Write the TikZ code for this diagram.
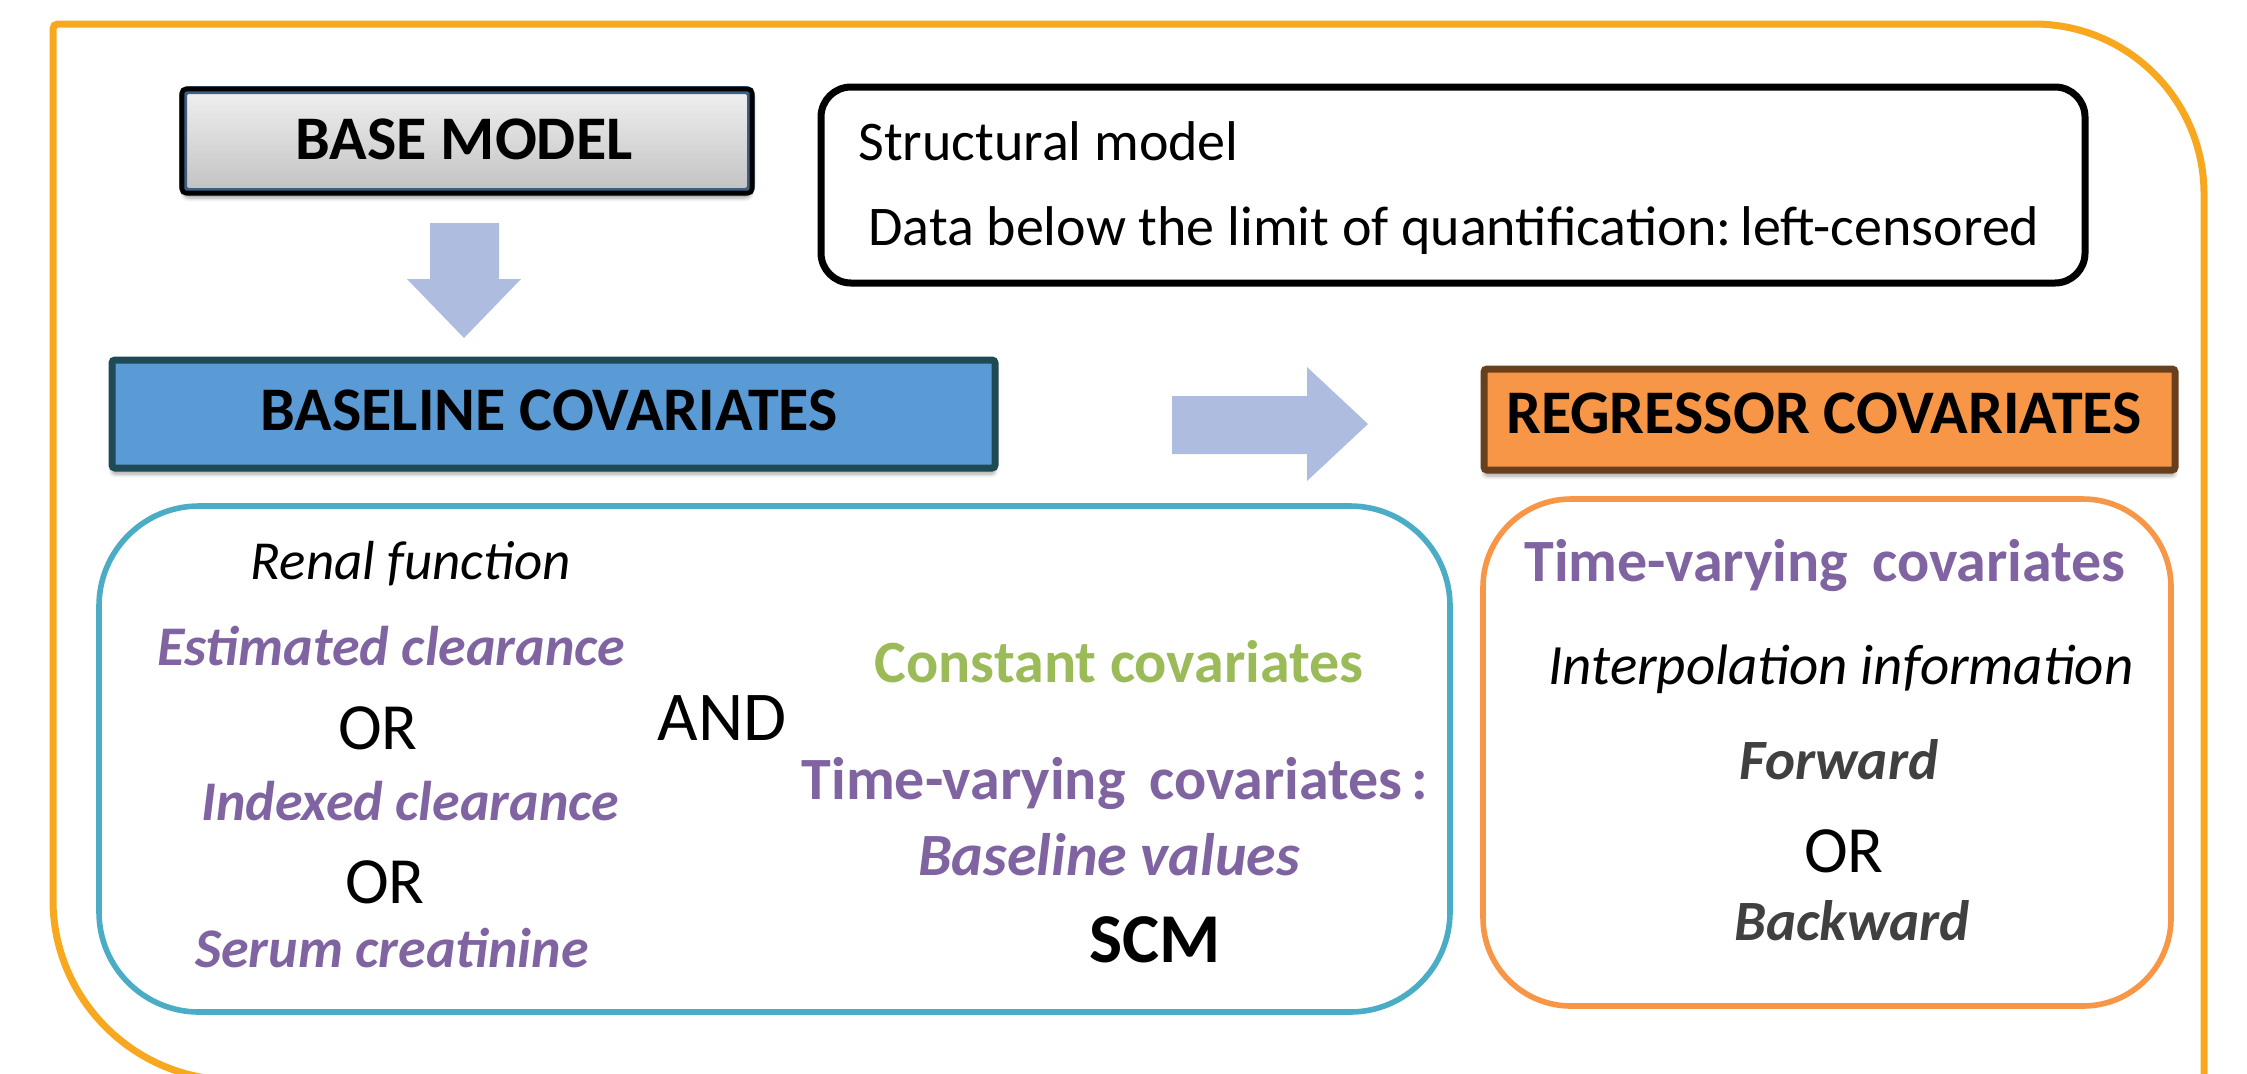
\documentclass[tikz,border=0pt]{standalone}
\usepackage{fontspec}
\setmainfont{Carlito}
\usetikzlibrary{shadows.blur}
\definecolor{frameorange}{RGB}{247,168,30}
\definecolor{arrowblue}{RGB}{174,188,223}
\definecolor{basefill}{RGB}{91,155,213}
\definecolor{baseedge}{RGB}{31,73,85}
\definecolor{regfill}{RGB}{247,150,70}
\definecolor{regedge}{RGB}{105,64,30}
\definecolor{tealedge}{RGB}{75,172,198}
\definecolor{orangeedge}{RGB}{247,150,70}
\definecolor{purp}{RGB}{128,100,162}
\definecolor{grn}{RGB}{155,187,89}
\definecolor{dgray}{RGB}{64,64,64}
\definecolor{bmedge}{RGB}{60,95,130}
\begin{document}
\begin{tikzpicture}[x=0.5pt,y=-0.5pt,
  frameline/.style={draw=frameorange, line width=3.5pt},
  blockarrow/.style={fill=arrowblue, draw=none},
  boxshadow/.style={blur shadow={shadow xshift=0pt, shadow yshift=-3pt, shadow blur steps=6, shadow opacity=35}},
  txt/.style={inner sep=0pt, anchor=base},
  ltxt/.style={inner sep=0pt, anchor=base west},
  titlefont/.style={font=\fontsize{31}{37}\selectfont\bfseries},
  plainfont/.style={font=\fontsize{28}{34}\selectfont},
  itfont/.style={font=\fontsize{27.5}{33}\selectfont\itshape},
  bifont/.style={font=\fontsize{28}{34}\selectfont\bfseries\itshape},
  bfont/.style={font=\fontsize{30}{36}\selectfont\bfseries},
  orfont/.style={font=\fontsize{33}{40}\selectfont},
]
\useasboundingbox (0,0) rectangle (2247,1073);

% outer frame
\draw[frameline] (2204,1095) -- (2204,194)
  .. controls (2204,100) and (2128,24) .. (2034,24)
  -- (58,24) .. controls (55,24) and (53,26) .. (53,29)
  -- (53,900) .. controls (53,999) and (134,1080) .. (233,1080) -- (700,1080);

% boxes
\node[boxshadow, draw=bmedge, line width=4pt, rounded corners=3pt,
      minimum width=284pt, minimum height=51pt,
      top color=gray!12, bottom color=gray!48] (base) at (467,141) {};
\draw[black, line width=2.4pt, rounded corners=2pt]
  ([xshift=1.5pt,yshift=-1.5pt]base.north west) rectangle ([xshift=-1.5pt,yshift=1.5pt]base.south east);
\node[txt, titlefont] (basetxt) at (464,159) {BASE MODEL};

\node[boxshadow, draw=baseedge, fill=basefill, line width=3.5pt, rounded corners=1.5pt,
      minimum width=441.5pt, minimum height=54pt] (baseline) at (553.5,414) {};
\node[txt, titlefont] (baselinetxt) at (549,430) {BASELINE COVARIATES};

\node[boxshadow, draw=regedge, fill=regfill, line width=3.5pt, rounded corners=1.5pt,
      minimum width=345.5pt, minimum height=50.5pt] (regressor) at (1829.5,419.5) {};
\node[txt, titlefont] (regtxt) at (1824,433) {REGRESSOR COVARIATES};

\node[draw=black, fill=white, line width=3.5pt, rounded corners=15pt,
      minimum width=632pt, minimum height=98pt] (struct) at (1453,185) {};
\node[ltxt, plainfont] (structtxt) at (858,160) {Structural model};
\node[ltxt, plainfont] (datatxt) at (868,245) {Data below the limit of quantification:\,left-censored};

\node[draw=tealedge, line width=2.8pt, rounded corners=50pt,
      minimum width=675.5pt, minimum height=253pt] (bluebox) at (774.5,759) {};
\node[draw=orangeedge, line width=2.8pt, rounded corners=44pt,
      minimum width=344pt, minimum height=253.5pt] (orangebox) at (1827,752.5) {};

% block arrows
\fill[blockarrow] (430,223) -- (499,223) -- (499,279) -- (521,279) -- (464,338)
  -- (407,279) -- (430,279) -- cycle;
\fill[blockarrow] (1172,396) -- (1307,396) -- (1307,367) -- (1368,424)
  -- (1307,481) -- (1307,454) -- (1172,454) -- cycle;

% left box texts
\node[txt, itfont] (renal) at (411,579) {Renal function};
\node[txt, bifont, purp] (est) at (391,665) {Estimated clearance};
\node[txt, orfont] (or1) at (378,749) {OR};
\node[txt, bifont, purp] (idx) at (410,820) {Indexed clearance};
\node[txt, orfont] (or2) at (385,903) {OR};
\node[txt, bifont, purp] (serum) at (392,967) {Serum creatinine};
\node[txt, font=\fontsize{35}{42}\selectfont] (and) at (722,740) {AND};
\node[txt, bfont, grn] (const) at (1119,682) {Constant covariates};
\node[txt, bfont, purp] (tvc) at (1115,799) {Time-varying\hspace{0.4em}covariates\hspace{0.15em}:};
\node[txt, font=\fontsize{30}{36}\selectfont\bfseries\itshape, purp] (bval) at (1109,875) {Baseline values};
\node[txt, font=\fontsize{35}{42}\selectfont\bfseries] (scm) at (1155,962) {SCM};

% right box texts
\node[txt, bfont, purp] (tvc2) at (1825,581) {Time-varying\hspace{0.4em}covariates};
\node[txt, font=\fontsize{28.5}{34}\selectfont\itshape] (interp) at (1841,684) {Interpolation information};
\node[txt, font=\fontsize{28.5}{34}\selectfont\bfseries\itshape, dgray] (fwd) at (1839,779) {Forward};
\node[txt, orfont] (or3) at (1844,872) {OR};
\node[txt, font=\fontsize{28.5}{34}\selectfont\bfseries\itshape, dgray] (bwd) at (1852,940) {Backward};
\end{tikzpicture}
\end{document}
